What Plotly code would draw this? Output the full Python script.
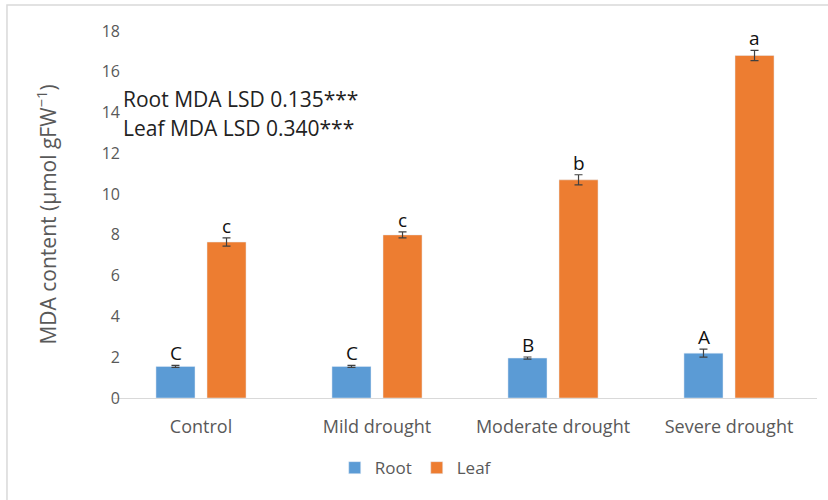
import plotly.graph_objects as go

categories = ["Control", "Mild drought", "Moderate drought", "Severe drought"]
root_mda = [1.55, 1.55, 1.96, 2.20]
root_err = [0.05, 0.05, 0.05, 0.20]
leaf_mda = [7.65, 8.00, 10.70, 16.80]
leaf_err = [0.20, 0.15, 0.25, 0.25]
root_letters = ["C", "C", "B", "A"]
leaf_letters = ["c", "c", "b", "a"]
lsd_lines = ["Root MDA LSD 0.135***", "Leaf MDA LSD 0.340***"]

BLUE = "#5B9BD5"
ORANGE = "#ED7D31"
GREY = "#595959"
FONT = "Open Sans"

fig = go.Figure()
fig.add_trace(go.Bar(
    name="Root", x=categories, y=root_mda, marker_color=BLUE,
    error_y=dict(type="data", array=root_err, color="#404040", thickness=1.2, width=4),
))
fig.add_trace(go.Bar(
    name="Leaf", x=categories, y=leaf_mda, marker_color=ORANGE,
    error_y=dict(type="data", array=leaf_err, color="#404040", thickness=1.2, width=4),
))

# significance letters above each bar
for i, cat in enumerate(categories):
    fig.add_annotation(x=cat, y=root_mda[i] + root_err[i], text=root_letters[i],
                       showarrow=False, yanchor="bottom", xshift=-25.5, yshift=-3,
                       font=dict(family=FONT, size=19, color="#111111"))
    fig.add_annotation(x=cat, y=leaf_mda[i] + leaf_err[i], text=leaf_letters[i],
                       showarrow=False, yanchor="bottom", xshift=25.5, yshift=-3,
                       font=dict(family=FONT, size=19, color="#111111"))

for j, line in enumerate(lsd_lines):
    fig.add_annotation(xref="paper", yref="paper", x=0.012, y=0.816 - j * 0.079,
                       xanchor="left", yanchor="middle", text=line, showarrow=False,
                       font=dict(family=FONT, size=21, color="#222222"))

# outer frame
fig.add_shape(type="rect", xref="paper", yref="paper", x0=-0.1506, x1=1.1, y0=-0.3, y1=1.0708,
              line=dict(color="#D9D9D9", width=1.5), layer="below")

fig.update_layout(
    width=828, height=500,
    margin=dict(l=113, r=11, t=31, b=102),
    plot_bgcolor="white", paper_bgcolor="white",
    barmode="group", bargap=0.42, bargroupgap=0.235,
    font=dict(family=FONT, color=GREY),
    showlegend=True,
    legend=dict(orientation="h", x=0.43, y=-0.142, xanchor="center", yanchor="top",
                font=dict(family=FONT, size=17, color=GREY), itemwidth=30),
    xaxis=dict(showline=True, linecolor="#D9D9D9", linewidth=1, ticks="",
               ticklabelstandoff=12, automargin=False,
               tickfont=dict(family=FONT, size=18, color=GREY)),
    yaxis=dict(range=[0, 18], dtick=2, showgrid=False, zeroline=False, showline=False,
               tickfont=dict(family=FONT, size=16, color=GREY), ticklen=0,
               ticklabelstandoff=-8, automargin=False,
               title=dict(text="MDA content (μmol gFW<sup>−1</sup>)", standoff=39,
                          font=dict(family=FONT, size=21, color=GREY))),
)

fig.write_html("out.html")
